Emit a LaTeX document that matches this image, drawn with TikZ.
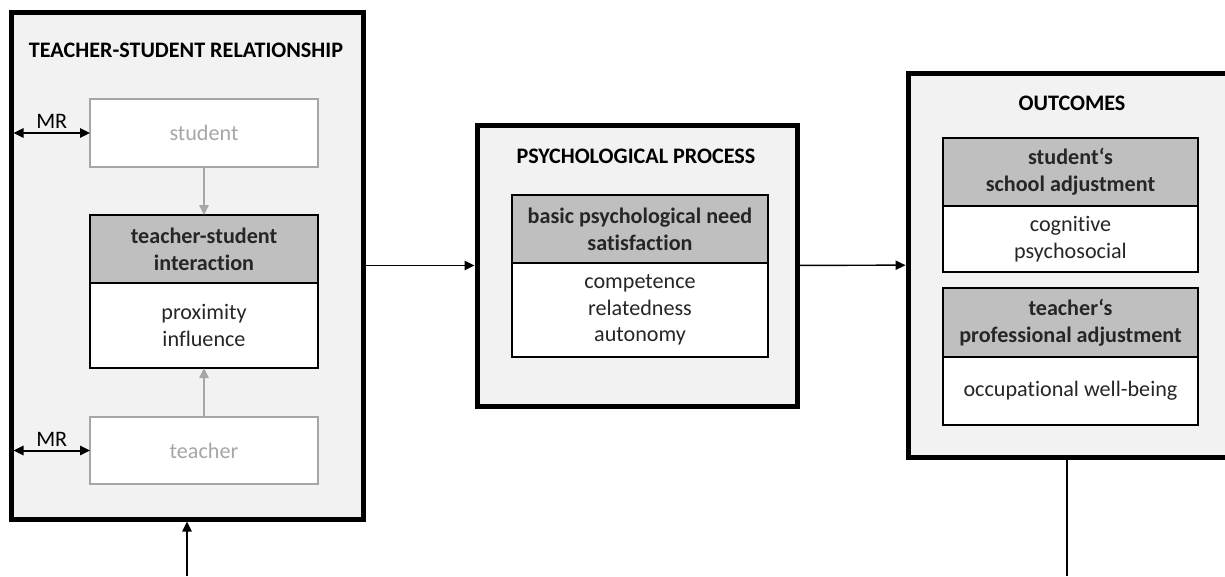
\documentclass[tikz,border=0pt]{standalone}
\usepackage{fontspec}
\setmainfont{Carlito}[Ligatures=NoCommon]
\usetikzlibrary{positioning,arrows.meta}
\definecolor{panelgray}{HTML}{F2F2F2}
\definecolor{headgray}{HTML}{BFBFBF}
\definecolor{softgray}{HTML}{A6A6A6}
\definecolor{inkgray}{HTML}{262626}
\newcommand{\figsize}{\fontsize{16.6}{20}\selectfont}
\tikzstyle{panel}=[
	draw=black,
	line width=3.75pt,
	fill=panelgray,
	inner sep=0pt
]
\tikzstyle{panelhead}=[font=\figsize\bfseries, text=black]
\tikzstyle{head}=[
	draw=black,
	line width=1.1pt,
	fill=headgray,
	font=\figsize\bfseries,
	text=inkgray,
	align=center,
	inner sep=0pt,
	outer sep=0pt
]
\tikzstyle{body}=[
	draw=black,
	line width=1.1pt,
	fill=white,
	font=\figsize,
	text=inkgray,
	align=center,
	inner sep=0pt,
	outer sep=0pt
]
\tikzstyle{actor}=[body, draw=softgray, text=softgray]
\tikzstyle{link} = [draw, line width=1.1pt, -{Triangle[length=7.5pt,width=7pt]}]
\tikzstyle{mrlink} = [draw, line width=1.5pt, {Triangle[length=7.5pt,width=7pt]}-{Triangle[length=7.5pt,width=7pt]}]

\begin{document}
\begin{tikzpicture}[x=0.75pt, y=-0.75pt]

	\useasboundingbox (0,0) rectangle (1225,576);
	\clip (0,0) rectangle (1225,576);

	% teacher-student relationship
	\node[panel, minimum width=264pt, minimum height=380.25pt] (tsr) at (187,265.5) {};
	\node[panelhead] (tsrtitle) at (186,50) {TEACHER-STUDENT RELATIONSHIP};
	\node[actor, minimum width=171pt, minimum height=51pt] (student) at (204,133) {student};
	\node[head, minimum width=171pt, minimum height=51pt] (ihead) at (204,249) {teacher-student\\interaction};
	\node[body, minimum width=171pt, minimum height=63.75pt, below=0pt of ihead] (ibody) {proximity\\influence};
	\node[actor, minimum width=171pt, minimum height=50.25pt] (teacher) at (204,450.5) {teacher};

	% psychological process
	\node[panel, minimum width=240pt, minimum height=210.75pt] (pp) at (637,265.5) {};
	\node[panelhead] (pptitle) at (636,156) {PSYCHOLOGICAL PROCESS};
	\node[head, minimum width=192pt, minimum height=51pt] (nhead) at (640,229) {basic psychological need\\satisfaction};
	\node[body, minimum width=192pt, minimum height=70.5pt, below=0pt of nhead] (nbody) {competence\\relatedness\\autonomy};

	% outcomes
	\node[panel, minimum width=246.75pt, minimum height=288pt] (out) at (1072.5,265) {};
	\node[panelhead] (outtitle) at (1072,103) {OUTCOMES};
	\node[head, minimum width=191.25pt, minimum height=51pt] (shead) at (1070.5,172) {student‘s\\school adjustment};
	\node[body, minimum width=191.25pt, minimum height=49.5pt, below=0pt of shead] (sbody) {cognitive\\psychosocial};
	\node[head, minimum width=191.25pt, minimum height=51.75pt] (thead) at (1070.5,322.5) {teacher‘s\\professional adjustment};
	\node[body, minimum width=191.25pt, minimum height=51pt, below=0pt of thead] (tbody) {occupational well-being};

	\coordinate (fbin) at (187,576);
	\coordinate (fbout) at (1067,576);

	\path
	(student) edge[link, softgray] (ihead)
	(teacher) edge[link, softgray] (ibody);

	\draw[mrlink] ([xshift=3.75pt]tsr.west |- student.west) -- (student.west)
		node[midway, above=-1pt, font=\figsize, text=black] {MR};
	\draw[mrlink] ([xshift=3.75pt]tsr.west |- teacher.west) -- (teacher.west)
		node[midway, above=-1pt, font=\figsize, text=black] {MR};

	\path
	(tsr) edge[link] (pp)
	(pp) edge[link] (out)
	(fbin) edge[link] (tsr);

	\draw[line width=1.1pt] (fbout |- out.south) -- (fbout);

\end{tikzpicture}
\end{document}
